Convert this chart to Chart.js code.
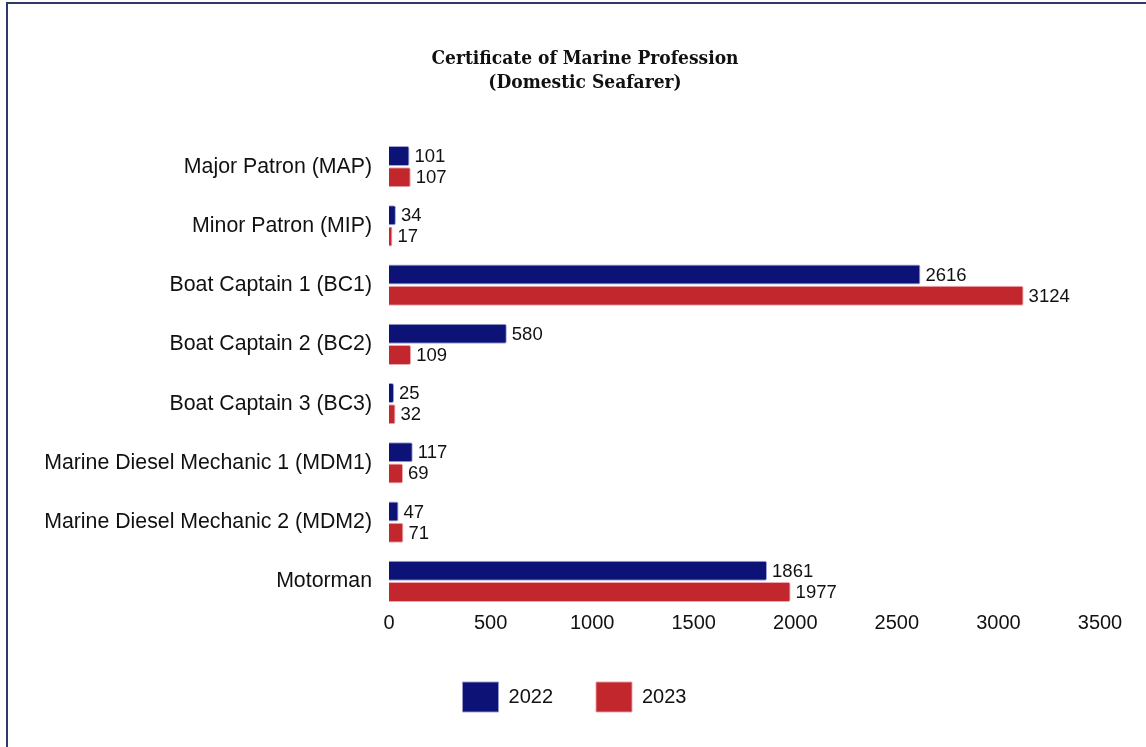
<!DOCTYPE html>
<html>
<head>
<meta charset="utf-8">
<script src="https://cdn.jsdelivr.net/npm/chart.js@4.4.1/dist/chart.umd.min.js"></script>
<style>
  html, body { margin: 0; padding: 0; background: #fff; overflow: hidden; }
  #wrap { position: relative; width: 1146px; height: 747px; }
  #frame { position: absolute; left: 6px; top: 2px; width: 3000px; height: 3000px;
           border-left: 2px solid #2e3a6a; border-top: 2px solid #2e3a6a; pointer-events: none; }
  canvas { position: absolute; left: 0; top: 0; }
</style>
</head>
<body>
<div id="wrap">
  <canvas id="c" width="1146" height="747"></canvas>
  <div id="frame"></div>
</div>
<script>
const titleLines = ["Certificate of Marine Profession", "(Domestic Seafarer)"];
const categories = [
  "Major Patron (MAP)",
  "Minor Patron (MIP)",
  "Boat Captain 1 (BC1)",
  "Boat Captain 2 (BC2)",
  "Boat Captain 3 (BC3)",
  "Marine Diesel Mechanic 1 (MDM1)",
  "Marine Diesel Mechanic 2 (MDM2)",
  "Motorman"
];
const seriesNames = ["2022", "2023"];
const values2022 = [101, 34, 2616, 580, 25, 117, 47, 1861];
const values2023 = [107, 17, 3124, 109, 32, 69, 71, 1977];
const xTicks = [0, 500, 1000, 1500, 2000, 2500, 3000, 3500];

const BLUE = "#0d1277";
const RED = "#c1272d";
const BLUE_EDGE = "rgba(150,155,205,0.9)";
const RED_EDGE = "rgba(235,160,165,0.9)";

const titlePlugin = {
  id: "twoLineTitle",
  afterDraw(chart) {
    const ctx = chart.ctx;
    ctx.save();
    ctx.fillStyle = "#111";
    ctx.font = "bold 19px 'DejaVu Serif Condensed', 'DejaVu Serif'";
    ctx.textAlign = "center";
    ctx.textBaseline = "middle";
    titleLines.forEach((t, i) => ctx.fillText(t, 585, 59 + i * 24));
    ctx.restore();
  }
};

const valueLabels = {
  id: "valueLabels",
  afterDatasetsDraw(chart) {
    const ctx = chart.ctx;
    ctx.save();
    ctx.fillStyle = "#111";
    ctx.font = "18.5px 'Liberation Sans'";
    ctx.textAlign = "left";
    ctx.textBaseline = "middle";
    chart.data.datasets.forEach((ds, di) => {
      const meta = chart.getDatasetMeta(di);
      meta.data.forEach((el, i) => {
        ctx.fillText(String(ds.data[i]), el.x + 5, el.y + 1);
      });
    });
    ctx.restore();
  }
};

new Chart(document.getElementById("c"), {
  type: "bar",
  data: {
    labels: categories,
    datasets: [
      { label: seriesNames[0], data: values2022, backgroundColor: BLUE,
        borderColor: BLUE_EDGE, borderWidth: 1, borderRadius: 2, borderSkipped: "start",
        categoryPercentage: 0.71, barPercentage: 0.95 },
      { label: seriesNames[1], data: values2023, backgroundColor: RED,
        borderColor: RED_EDGE, borderWidth: 1, borderRadius: 2, borderSkipped: "start",
        categoryPercentage: 0.71, barPercentage: 0.95 }
    ]
  },
  options: {
    indexAxis: "y",
    responsive: false,
    animation: false,
    layout: { padding: { top: 137, left: 3, right: 0, bottom: 25 } },
    scales: {
      x: {
        min: 0, max: 3500,
        afterBuildTicks(scale) { scale.ticks = xTicks.map(v => ({ value: v })); },
        afterFit(scale) { scale.height = scale.height + 4; },
        grid: { display: false, drawTicks: false },
        border: { display: false },
        ticks: { color: "#111", font: { family: "'Liberation Sans'", size: 20 }, padding: 0,
                 callback: (v) => String(v) }
      },
      y: {
        afterFit(scale) { scale.width = 386; },
        grid: { display: false, drawTicks: false },
        border: { display: false },
        ticks: { color: "#111", font: { family: "'Liberation Sans'", size: 21.3 }, padding: 17 }
      },
      yRight: {
        position: "right",
        display: true,
        afterFit(scale) { scale.width = 46; },
        grid: { display: false, drawTicks: false },
        border: { display: false },
        ticks: { display: false }
      }
    },
    plugins: {
      title: { display: false },
      tooltip: { enabled: false },
      legend: {
        position: "bottom",
        labels: {
          boxWidth: 36, boxHeight: 30, padding: 43, color: "#111",
          font: { family: "'Liberation Sans'", size: 20 },
          generateLabels(chart) {
            return chart.data.datasets.map((ds, i) => ({
              text: ds.label, fillStyle: ds.backgroundColor,
              strokeStyle: i === 0 ? BLUE_EDGE : RED_EDGE,
              lineWidth: 1, datasetIndex: i, hidden: false, fontColor: "#111"
            }));
          }
        }
      }
    }
  },
  plugins: [titlePlugin, valueLabels]
});
</script>
</body>
</html>
